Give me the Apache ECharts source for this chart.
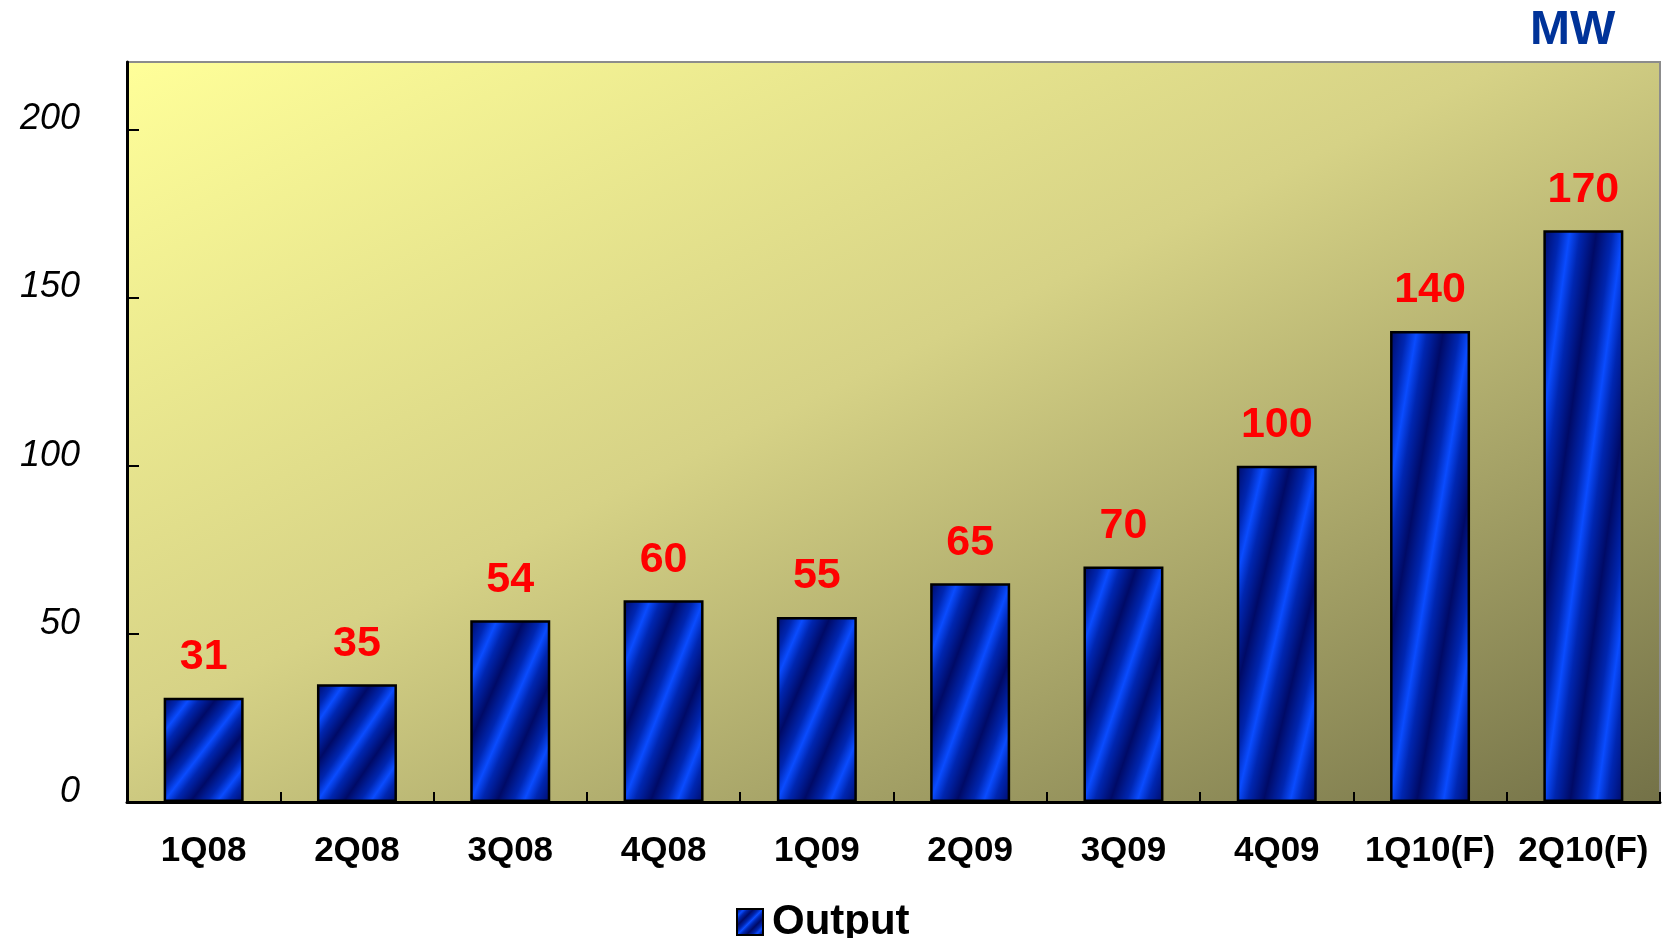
<!DOCTYPE html>
<html>
<head>
<meta charset="utf-8">
<script src="https://cdn.jsdelivr.net/npm/echarts@6/dist/echarts.min.js"></script>
<style>
html,body{margin:0;padding:0;background:#fff;}
#chart{width:1662px;height:938px;}
</style>
</head>
<body>
<div id="chart"></div>
<script>
// ---- data ----
const categories = ['1Q08','2Q08','3Q08','4Q08','1Q09','2Q09','3Q09','4Q09','1Q10(F)','2Q10(F)'];
const outputValues = [31, 35, 54, 60, 55, 65, 70, 100, 140, 170];
const seriesName = 'Output';
const unitLabel = 'MW';
const yMin = 0, yMax = 220, yInterval = 50;

// ---- layout / style ----
const W = 1662, H = 938;
const gridLeft = 127, gridTop = 62, gridRight = 2, gridBottom = 136;
const gridW = W - gridLeft - gridRight, gridH = H - gridTop - gridBottom;
const barW = 80;
const FONT = 'Liberation Sans, Arial, sans-serif';

function stripeStops(cycles){
  const base = [[0,'#000a66'],[0.3,'#0026b0'],[0.5,'#0a4cff'],[0.7,'#0026b0'],[1,'#000a66']];
  const stops = [];
  for(let c=0;c<cycles;c++){
    base.forEach(([o,col],i)=>{
      if(c>0 && i===0) return;
      stops.push({offset:(c+o)/cycles,color:col});
    });
  }
  return stops;
}
function diagGradient(w,h,cycles){
  const L2 = w*w + h*h;
  return {type:'linear', x:0, y:0, x2: 2*h*h/L2, y2: 2*w*w/L2, colorStops: stripeStops(cycles)};
}
const bgGradient = (function(){
  const L2 = gridW*gridW + gridH*gridH;
  return {type:'linear', x:0, y:0, x2: 2*gridH*gridH/L2, y2: 2*gridW*gridW/L2,
    colorStops:[{offset:0,color:'#ffff99'},{offset:0.45,color:'#d6d286'},{offset:1,color:'#737147'}]};
})();

const chart = echarts.init(document.getElementById('chart'), null, {renderer:'canvas'});
chart.setOption({
  backgroundColor:'#ffffff',
  animation:false,
  title:{
    text: unitLabel, left: 1525, top: 2,
    textStyle:{color:'#003399', fontSize:48, fontWeight:'bold', fontFamily:FONT, lineHeight:48}
  },
  legend:{
    data:[{name:seriesName, itemStyle:{color: diagGradient(26,26,3), borderColor:'#000', borderWidth:2}}],
    left: 731, top: 896,
    itemWidth:26, itemHeight:26, itemGap:10,
    icon:'rect',
    textStyle:{color:'#000', fontSize:42, fontWeight:'bold', fontFamily:FONT, padding:[0,0,0,4]}
  },
  grid:{
    left:gridLeft, top:gridTop, right:gridRight, bottom:gridBottom,
    show:true, backgroundColor:bgGradient, borderColor:'#8c8c8c', borderWidth:2
  },
  xAxis:{
    type:'category', data:categories,
    axisLine:{lineStyle:{color:'#000', width:3}},
    axisTick:{show:true, inside:true, length:10, lineStyle:{color:'#000', width:2}},
    axisLabel:{color:'#000', fontSize:35, fontWeight:'bold', fontFamily:FONT, margin:32, interval:0}
  },
  yAxis:{
    type:'value', min:yMin, max:yMax, interval:yInterval,
    splitLine:{show:false},
    axisLine:{show:true, lineStyle:{color:'#000', width:3}},
    axisTick:{show:true, inside:true, length:12, lineStyle:{color:'#000', width:2}},
    axisLabel:{color:'#000', fontSize:36, fontStyle:'italic', fontFamily:FONT, margin:47,
      showMaxLabel:false, verticalAlign:'bottom', lineHeight:20}
  },
  series:[{
    name:seriesName, type:'bar', data:outputValues, barWidth:barW,
    itemStyle:{
      borderColor:'#000', borderWidth:2.5,
      color:function(p){
        const h = Math.max(1, (p.value - yMin)/(yMax - yMin)*gridH);
        return diagGradient(barW, h, 3);
      }
    },
    label:{show:true, position:'top', distance:19, color:'#ff0000', fontSize:43,
      fontWeight:'bold', fontFamily:FONT}
  }]
});
</script>
</body>
</html>
